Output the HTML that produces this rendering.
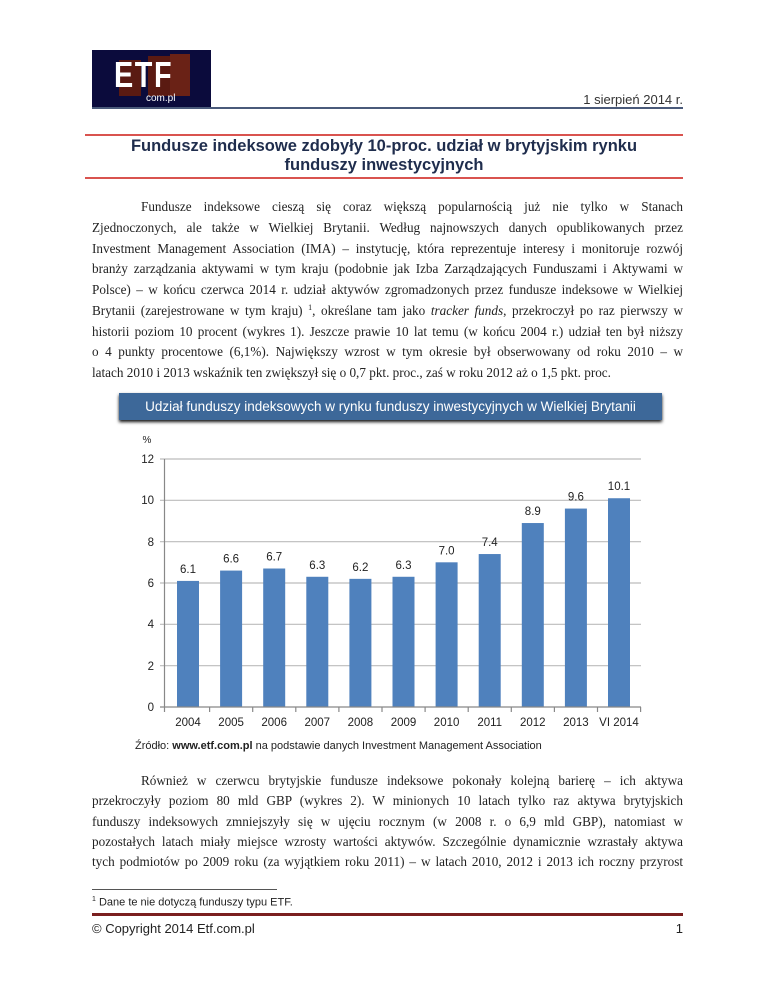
<!DOCTYPE html>
<html><head><meta charset="utf-8"><style>
body{margin:0;background:#fff;width:768px;height:994px;position:relative;overflow:hidden;font-family:"Liberation Serif",serif;color:#222}
.a{position:absolute}
.l{position:absolute;left:92px;width:591px;font-size:13.2px;line-height:16px;text-align:justify;text-align-last:justify;white-space:nowrap}
.l.n{text-align-last:left}
.l sup{font-size:8px;line-height:0;vertical-align:0;position:relative;top:-5px}
.s{font-family:"Liberation Sans",sans-serif}
</style></head><body>
<div class="a" style="left:92px;top:50px;width:119px;height:57px;background:#0b0b3c"></div>
<div class="a" style="left:119px;top:60px;width:22px;height:36px;background:#5a1a12"></div>
<div class="a" style="left:148px;top:56px;width:24px;height:40px;background:#5a1a12"></div>
<div class="a" style="left:170px;top:54px;width:20px;height:42px;background:#6a2216"></div>
<div class="a s" style="left:114px;top:55px;font-size:36px;font-weight:bold;color:#fff;letter-spacing:2px;line-height:40px;transform:scaleX(0.8);transform-origin:left">ETF</div>
<div class="a s" style="left:146px;top:93px;font-size:10px;color:#fff;line-height:12px">com.pl</div>
<div class="a s" style="left:560px;top:92px;width:123px;text-align:right;font-size:13px;color:#333">1 sierpień 2014 r.</div>
<div class="a" style="left:92px;top:107px;width:591px;height:2px;background:#4a5a7a"></div>
<div class="a" style="left:85px;top:134px;width:598px;height:1.5px;background:#d9534f"></div>
<div class="a s" style="left:85px;top:137px;width:598px;text-align:center;font-size:16.5px;font-weight:bold;color:#1f2d4d;line-height:19px">Fundusze indeksowe zdobyły 10-proc. udział w brytyjskim rynku<br>funduszy inwestycyjnych</div>
<div class="a" style="left:85px;top:177px;width:598px;height:1.5px;background:#d9534f"></div>
<div class="l" style="top:199px;left:141px;width:542px">Fundusze indeksowe cieszą się coraz większą popularnością już nie tylko w Stanach</div>
<div class="l" style="top:220px">Zjednoczonych, ale także w Wielkiej Brytanii. Według najnowszych danych opublikowanych przez</div>
<div class="l" style="top:241px">Investment Management Association (IMA) – instytucję, która reprezentuje interesy i monitoruje rozwój</div>
<div class="l" style="top:261px">branży zarządzania aktywami w tym kraju (podobnie jak Izba Zarządzających Funduszami i Aktywami w</div>
<div class="l" style="top:282px">Polsce) – w końcu czerwca 2014 r. udział aktywów zgromadzonych przez fundusze indeksowe w Wielkiej</div>
<div class="l" style="top:303px">Brytanii (zarejestrowane w tym kraju) <sup>1</sup>, określane tam jako <i>tracker funds</i>, przekroczył po raz pierwszy w</div>
<div class="l" style="top:324px">historii poziom 10 procent (wykres 1). Jeszcze prawie 10 lat temu (w końcu 2004 r.) udział ten był niższy</div>
<div class="l" style="top:344px">o 4 punkty procentowe (6,1%). Największy wzrost w tym okresie był obserwowany od roku 2010 – w</div>
<div class="l n" style="top:365px">latach 2010 i 2013 wskaźnik ten zwiększył się o 0,7 pkt. proc., zaś w roku 2012 aż o 1,5 pkt. proc.</div>
<div class="a" style="left:119px;top:395px;width:543px;height:27px;background:#111;filter:blur(1.5px)"></div>
<div class="a s" style="left:119px;top:393px;width:543px;height:27px;background:#3d6899;color:#fff;font-size:13.5px;line-height:27px;text-align:center">Udział funduszy indeksowych w rynku funduszy inwestycyjnych w Wielkiej Brytanii</div>
<svg class="a" style="left:0;top:0" width="768" height="994" font-family="Liberation Sans, sans-serif" font-size="11.5" fill="#222">
<text x="147" y="443" text-anchor="middle" font-size="10">%</text>
<g stroke="#bcbcbc" stroke-width="1.2">
<line x1="160" y1="459" x2="641" y2="459"/><line x1="160" y1="500.3" x2="641" y2="500.3"/><line x1="160" y1="541.7" x2="641" y2="541.7"/><line x1="160" y1="583" x2="641" y2="583"/><line x1="160" y1="624.3" x2="641" y2="624.3"/><line x1="160" y1="665.7" x2="641" y2="665.7"/>
</g>
<g text-anchor="end"><text x="154" y="463">12</text><text x="154" y="504">10</text><text x="154" y="546">8</text><text x="154" y="587">6</text><text x="154" y="628">4</text><text x="154" y="670">2</text><text x="154" y="711">0</text></g>
<g fill="#4f81bd" id="b"></g>
<g stroke="#888" stroke-width="1.2" id="t"><line x1="164.5" y1="459" x2="164.5" y2="707"/><line x1="160" y1="707" x2="641" y2="707"/></g>
<g id="lab" text-anchor="middle"></g>
</svg>
<script>
var v=[6.1,6.6,6.7,6.3,6.2,6.3,7.0,7.4,8.9,9.6,10.1],y=["2004","2005","2006","2007","2008","2009","2010","2011","2012","2013","VI 2014"];
var b=document.getElementById('b'),t=document.getElementById('t'),l=document.getElementById('lab'),ns="http://www.w3.org/2000/svg";
function e(p,n,a,tx){var el=document.createElementNS(ns,n);for(var k in a)el.setAttribute(k,a[k]);if(tx)el.textContent=tx;p.appendChild(el);}
for(var i=0;i<11;i++){var c=188+43.1*i,h=v[i]*20.67;
e(b,'rect',{x:c-11,y:707-h,width:22,height:h});
e(l,'text',{x:c,y:707-h-8},v[i].toFixed(1));
e(l,'text',{x:c,y:726},y[i]);
e(t,'line',{x1:166.5+43.1*(i+1),y1:707,x2:166.5+43.1*(i+1),y2:712});}
e(t,'line',{x1:164.5,y1:707,x2:164.5,y2:712});
</script>
<div class="a s" style="left:135px;top:740px;font-size:11px;color:#222">Źródło: <b>www.etf.com.pl</b> na podstawie danych Investment Management Association</div>
<div class="l" style="top:773px;left:141px;width:542px">Również w czerwcu brytyjskie fundusze indeksowe pokonały kolejną barierę – ich aktywa</div>
<div class="l" style="top:793px">przekroczyły poziom 80 mld GBP (wykres 2). W minionych 10 latach tylko raz aktywa brytyjskich</div>
<div class="l" style="top:814px">funduszy indeksowych zmniejszyły się w ujęciu rocznym (w 2008 r. o 6,9 mld GBP), natomiast w</div>
<div class="l" style="top:834px">pozostałych latach miały miejsce wzrosty wartości aktywów. Szczególnie dynamicznie wzrastały aktywa</div>
<div class="l" style="top:854px">tych podmiotów po 2009 roku (za wyjątkiem roku 2011) – w latach 2010, 2012 i 2013 ich roczny przyrost</div>
<div class="a" style="left:92px;top:889px;width:185px;height:1px;background:#555"></div>
<div class="a s" style="left:92px;top:896px;font-size:11px;color:#222"><sup style="font-size:7px">1</sup> Dane te nie dotyczą funduszy typu ETF.</div>
<div class="a" style="left:92px;top:913px;width:591px;height:3px;background:#7a1f1f"></div>
<div class="a s" style="left:92px;top:921px;font-size:13px;color:#222">© Copyright 2014 Etf.com.pl</div>
<div class="a s" style="left:660px;top:921px;width:23px;text-align:right;font-size:13px;color:#222">1</div>
</body></html>
